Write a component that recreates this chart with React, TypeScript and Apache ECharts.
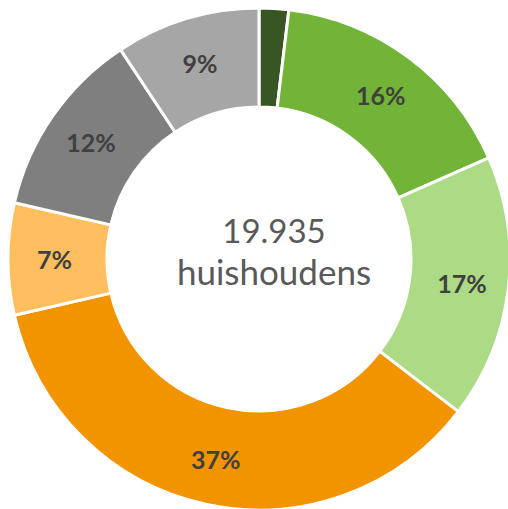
import React, { useEffect, useRef } from "react";
import * as echarts from "echarts";

const categories = ["Cat 1", "Cat 2", "Cat 3", "Cat 4", "Cat 5", "Cat 6", "Cat 7"];
const values = [1.9, 16.5, 17.0, 36.0, 7.2, 12.1, 9.3];
const labels = ["", "16%", "17%", "37%", "7%", "12%", "9%"];
const colors = ["#375623", "#71B437", "#ADDA84", "#F29400", "#FFBF5F", "#7F7F7F", "#A6A6A6"];
const centerLines = ["19.935", "huishoudens"];

export default function App() {
  const ref = useRef<HTMLDivElement>(null);
  useEffect(() => {
    if (!ref.current) return;
    const chart = echarts.init(ref.current, null, { renderer: "svg" });
    chart.setOption({
      animation: false,
      backgroundColor: "#ffffff",
      series: [
        {
          type: "pie",
          center: [259, 259],
          radius: [152, 251],
          startAngle: 90,
          clockwise: true,
          avoidLabelOverlap: false,
          itemStyle: { borderColor: "#ffffff", borderWidth: 3 },
          label: {
            show: true,
            position: "inside",
            formatter: (p: any) => labels[p.dataIndex],
            color: "#404040",
            fontFamily: "Lato",
            fontWeight: "bold",
            fontSize: 25,
          },
          labelLine: { show: false },
          emphasis: { disabled: true },
          data: categories.map((c, i) => ({
            name: c,
            value: values[i],
            itemStyle: { color: colors[i] },
          })),
        },
      ],
      graphic: [
        {
          type: "text",
          x: 274,
          y: 213,
          style: {
            text: centerLines[0],
            fill: "#595959",
            font: "33px Lato",
            textAlign: "center",
            textVerticalAlign: "top",
          },
        },
        {
          type: "text",
          x: 274,
          y: 253,
          style: {
            text: centerLines[1],
            fill: "#595959",
            font: "35px Lato",
            textAlign: "center",
            textVerticalAlign: "top",
          },
        },
      ],
    });
    return () => chart.dispose();
  }, []);
  return (
    <div
      ref={ref}
      style={{ position: "absolute", left: 0, top: 0, width: 508, height: 509 }}
    />
  );
}
